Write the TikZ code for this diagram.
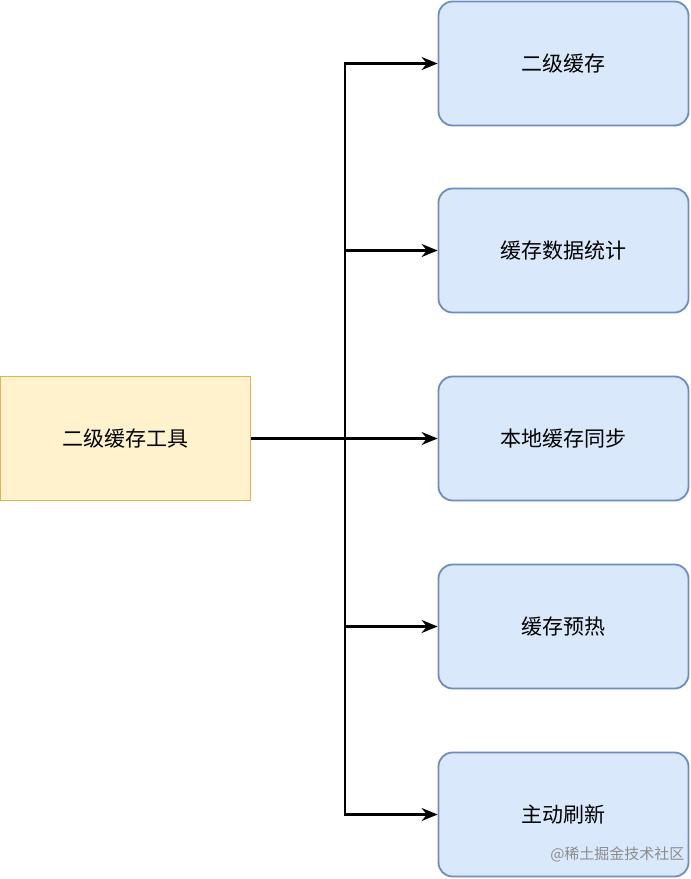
\documentclass[tikz,border=0pt]{standalone}
\usepackage{fontspec}
\newfontfamily\cjk{Noto Sans CJK SC}
\usetikzlibrary{arrows.meta}
\definecolor{yf}{HTML}{FFF2CC}\definecolor{yd}{HTML}{D6B656}
\definecolor{bf}{HTML}{DAE8FC}\definecolor{bd}{HTML}{6C8EBF}
\begin{document}
\begin{tikzpicture}[x=1pt,y=-1pt,
 leaf/.style={draw=bd,fill=bf,rounded corners=14pt,minimum width=250pt,minimum height=124pt,font=\cjk\fontsize{21}{24}\selectfont,line width=1.8pt},
 root/.style={draw=yd,fill=yf,minimum width=250pt,minimum height=124pt,font=\cjk\fontsize{21}{24}\selectfont,line width=1.8pt},
 arr/.style={-{Stealth[length=16pt,width=13pt]},line width=2.2pt}]
\useasboundingbox (0,0) rectangle (691,879);
\node[root] (r) at (125.5,438.5) {二级缓存工具};
\node[leaf] (a) at (563.5,63.5) {二级缓存};
\node[leaf] (b) at (563.5,250.5) {缓存数据统计};
\node[leaf] (c) at (563.5,438.5) {本地缓存同步};
\node[leaf] (d) at (563.5,626.5) {缓存预热};
\node[leaf] (e) at (563.5,814.5) {主动刷新};
\coordinate (j) at (345,438.5);
\foreach \t in {a,b,c,d,e}{\draw[arr] (r.east) -- (j) |- (\t.west);}
\node[anchor=south east,font=\cjk\fontsize{15}{17}\selectfont,text=black!45] (w) at (688,866) {@稀土掘金技术社区};
\end{tikzpicture}
\end{document}
